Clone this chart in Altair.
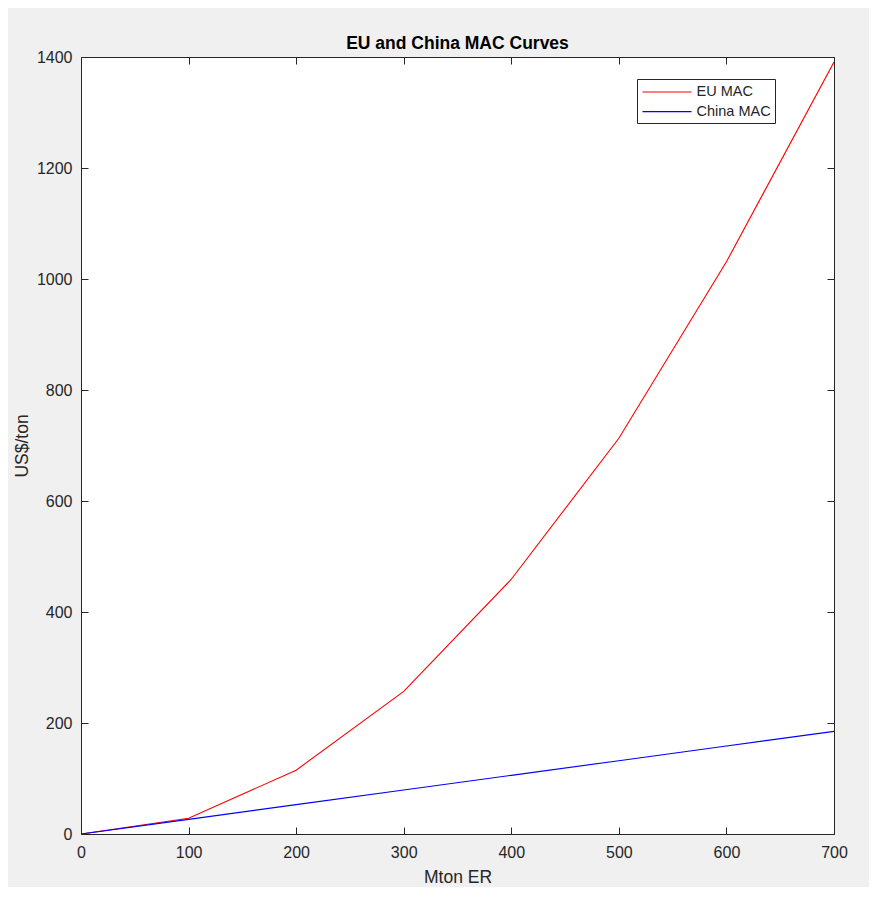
import altair as alt
import pandas as pd

mton_er = [0, 100, 200, 300, 400, 500, 600, 700]
eu_mac = [0, 28.5, 115, 257, 459, 713, 1031, 1391]
china_mac = [0, 26.4, 52.9, 79.3, 105.7, 132.1, 158.6, 185]
series = ["EU MAC", "China MAC"]
y_ticks = [0, 200, 400, 600, 800, 1000, 1200, 1400]

df = pd.DataFrame({
    "x": mton_er + mton_er,
    "y": eu_mac + china_mac,
    "s": [series[0]] * len(mton_er) + [series[1]] * len(mton_er),
})

INK = "#262626"
FONT = "Liberation Sans"
xscale = alt.Scale(domain=[0, 700], nice=False, zero=False)
yscale = alt.Scale(domain=[0, 1400], nice=False, zero=False)

common = dict(domain=False, grid=False, ticks=True, tickSize=7, offset=-7,
              tickColor=INK, tickWidth=1, labelColor=INK, labelFont=FONT,
              labelFontSize=16, titleColor=INK, titleFont=FONT,
              titleFontSize=17.5, titleFontWeight="normal", format="d",
              labelFlush=False)

lines = alt.Chart(df).mark_line(strokeWidth=1.1, clip=True).encode(
    x=alt.X("x:Q", scale=xscale,
            axis=alt.Axis(orient="bottom", values=mton_er, title="Mton ER",
                          labelPadding=10, titlePadding=8, **common)),
    y=alt.Y("y:Q", scale=yscale,
            axis=alt.Axis(orient="left", values=y_ticks, title="US$/ton",
                          labelPadding=9, titlePadding=5, **common)),
    color=alt.Color("s:N", sort=series,
                    scale=alt.Scale(domain=series, range=["#ff0000", "#0000ff"]),
                    legend=alt.Legend(orient="none", legendX=556, legendY=22,
                                      title=None, symbolType="M-3,0H3",
                                      symbolSize=267, symbolStrokeWidth=1.2,
                                      symbolOffset=17,
                                      labelFont=FONT, labelFontSize=14.5,
                                      labelColor=INK, labelOffset=20.5,
                                      rowPadding=3.7, padding=4,
                                      strokeColor=INK, fillColor="white")),
    detail="s:N",
)

frame = alt.Chart(df).mark_line(opacity=0).encode(
    x=alt.X("x:Q", scale=xscale,
            axis=alt.Axis(orient="top", values=mton_er, labels=False, title=None,
                          **common)),
    y=alt.Y("y:Q", scale=yscale,
            axis=alt.Axis(orient="right", values=y_ticks, labels=False, title=None,
                          **common)),
    detail="s:N",
)

chart = alt.layer(lines, frame).resolve_axis(
    x="independent", y="independent"
).properties(
    width=753,
    height=777,
    title=alt.TitleParams("EU and China MAC Curves", font=FONT, fontSize=17.5,
                          fontWeight="bold", color="black", anchor="middle",
                          offset=-3),
    background="#f0f0f0",
    padding={"left": 73, "top": 49, "right": 35, "bottom": 53},
    autosize="none",
).configure_view(stroke=INK, strokeWidth=1, fill="white")

chart.save("out.html", embed_options={"renderer": "svg", "actions": False})
